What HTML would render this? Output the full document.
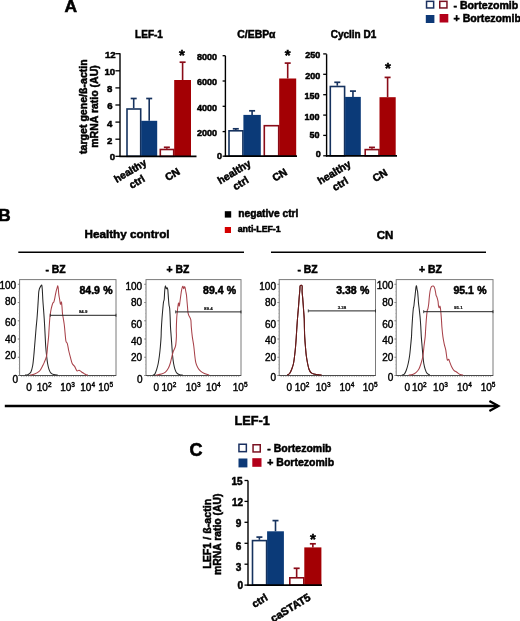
<!DOCTYPE html>
<html><head><meta charset="utf-8"><style>
html,body{margin:0;padding:0;background:#fff;}
svg{display:block;will-change:transform;}
text{font-family:"Liberation Sans", sans-serif;}
.b{stroke:#000;stroke-width:0.5px;}
.L{stroke:#000;stroke-width:0.8px;}
.r{stroke:#000;stroke-width:0.4px;}
</style></head><body>
<svg width="520" height="621" viewBox="0 0 520 621" font-family="Liberation Sans, sans-serif">
<rect width="520" height="621" fill="#fff"/>
<text x="64.6" y="12.3" font-size="17.4" font-weight="bold" class="b" text-anchor="start" fill="#000" style="stroke-width:0.6px">A</text>
<line x1="115.4" y1="53.7" x2="120" y2="53.7" stroke="#000" stroke-width="1.3"/>
<text x="115.6" y="58.1368" font-size="9.6" font-weight="bold" class="b" text-anchor="end" fill="#000" >12</text>
<line x1="115.4" y1="70.8" x2="120" y2="70.8" stroke="#000" stroke-width="1.3"/>
<text x="115.2" y="75.33680000000001" font-size="9.6" font-weight="bold" class="b" text-anchor="end" fill="#000" >10</text>
<line x1="115.4" y1="87.9" x2="120" y2="87.9" stroke="#000" stroke-width="1.3"/>
<text x="112.39999999999999" y="92.2368" font-size="9.6" font-weight="bold" class="b" text-anchor="end" fill="#000" >8</text>
<line x1="115.4" y1="105" x2="120" y2="105" stroke="#000" stroke-width="1.3"/>
<text x="112.6" y="109.38680000000001" font-size="9.6" font-weight="bold" class="b" text-anchor="end" fill="#000" >6</text>
<line x1="115.4" y1="122.1" x2="120" y2="122.1" stroke="#000" stroke-width="1.3"/>
<text x="112.39999999999999" y="127.33680000000001" font-size="9.6" font-weight="bold" class="b" text-anchor="end" fill="#000" >4</text>
<line x1="115.4" y1="139.2" x2="120" y2="139.2" stroke="#000" stroke-width="1.3"/>
<text x="112.39999999999999" y="143.9368" font-size="9.6" font-weight="bold" class="b" text-anchor="end" fill="#000" >2</text>
<line x1="115.4" y1="156.3" x2="120" y2="156.3" stroke="#000" stroke-width="1.3"/>
<text x="115.2" y="159.8368" font-size="9.6" font-weight="bold" class="b" text-anchor="end" fill="#000" >0</text>
<line x1="133.7" y1="108.2" x2="133.7" y2="98.5" stroke="#16325e" stroke-width="1.6"/>
<line x1="130.7" y1="98.5" x2="136.7" y2="98.5" stroke="#16325e" stroke-width="1.7"/>
<rect x="127.0" y="109.0" width="13.699999999999985" height="47.30000000000001" fill="#fff" stroke="#16325e" stroke-width="1.6"/>
<line x1="149.2" y1="120.8" x2="149.2" y2="98.5" stroke="#16325e" stroke-width="1.6"/>
<line x1="146.2" y1="98.5" x2="152.2" y2="98.5" stroke="#16325e" stroke-width="1.7"/>
<rect x="141.2" y="120.8" width="16.0" height="35.500000000000014" fill="#0b3a78"/>
<line x1="166.85" y1="148.7" x2="166.85" y2="147.3" stroke="#8a0c18" stroke-width="1.6"/>
<line x1="163.85" y1="147.3" x2="169.85" y2="147.3" stroke="#8a0c18" stroke-width="1.7"/>
<rect x="160.3" y="149.5" width="13.399999999999988" height="6.800000000000023" fill="#fff" stroke="#8a0c18" stroke-width="1.6"/>
<line x1="182.6" y1="80" x2="182.6" y2="62.2" stroke="#8a0c18" stroke-width="1.6"/>
<line x1="179.6" y1="62.2" x2="185.6" y2="62.2" stroke="#8a0c18" stroke-width="1.7"/>
<rect x="174.2" y="80" width="16.80000000000001" height="76.30000000000001" fill="#a30004"/>
<line x1="120" y1="53.3" x2="120" y2="157.0" stroke="#000" stroke-width="1.4"/>
<line x1="119.3" y1="156.3" x2="196.5" y2="156.3" stroke="#000" stroke-width="1.7"/>
<text x="149" y="37.6" font-size="10" font-weight="bold" class="b" text-anchor="middle" fill="#000" >LEF-1</text>
<text x="182" y="60.43" font-size="15" font-weight="bold" class="b" text-anchor="middle" fill="#000" >*</text>
<line x1="222.6" y1="55.7" x2="225.4" y2="55.7" stroke="#000" stroke-width="1.3"/>
<text x="217.0" y="59.622" font-size="9" font-weight="bold" class="b" text-anchor="end" fill="#000" >8000</text>
<line x1="222.6" y1="81.0" x2="225.4" y2="81.0" stroke="#000" stroke-width="1.3"/>
<text x="217.10000000000002" y="85.122" font-size="9" font-weight="bold" class="b" text-anchor="end" fill="#000" >6000</text>
<line x1="222.6" y1="106.3" x2="225.4" y2="106.3" stroke="#000" stroke-width="1.3"/>
<text x="217.10000000000002" y="110.52199999999999" font-size="9" font-weight="bold" class="b" text-anchor="end" fill="#000" >4000</text>
<line x1="222.6" y1="131.6" x2="225.4" y2="131.6" stroke="#000" stroke-width="1.3"/>
<text x="217.10000000000002" y="135.622" font-size="9" font-weight="bold" class="b" text-anchor="end" fill="#000" >2000</text>
<line x1="222.6" y1="156.2" x2="225.4" y2="156.2" stroke="#000" stroke-width="1.3"/>
<text x="221.9" y="158.572" font-size="9" font-weight="bold" class="b" text-anchor="end" fill="#000" >0</text>
<line x1="235.8" y1="130" x2="235.8" y2="128.8" stroke="#16325e" stroke-width="1.6"/>
<line x1="232.8" y1="128.8" x2="238.8" y2="128.8" stroke="#16325e" stroke-width="1.7"/>
<rect x="229.0" y="130.8" width="13.900000000000016" height="25.399999999999988" fill="#fff" stroke="#16325e" stroke-width="1.6"/>
<line x1="252.10000000000002" y1="114.9" x2="252.10000000000002" y2="110.8" stroke="#16325e" stroke-width="1.6"/>
<line x1="249.10000000000002" y1="110.8" x2="255.10000000000002" y2="110.8" stroke="#16325e" stroke-width="1.7"/>
<rect x="243.4" y="114.9" width="17.400000000000006" height="41.29999999999998" fill="#0b3a78"/>
<rect x="264.3" y="125.7" width="14.399999999999988" height="30.499999999999982" fill="#fff" stroke="#8a0c18" stroke-width="1.6"/>
<line x1="287.7" y1="78.5" x2="287.7" y2="63.1" stroke="#8a0c18" stroke-width="1.6"/>
<line x1="284.7" y1="63.1" x2="290.7" y2="63.1" stroke="#8a0c18" stroke-width="1.7"/>
<rect x="279.2" y="78.5" width="17.0" height="77.69999999999999" fill="#a30004"/>
<line x1="225.4" y1="55.8" x2="225.4" y2="156.89999999999998" stroke="#000" stroke-width="1.4"/>
<line x1="224.70000000000002" y1="156.2" x2="297" y2="156.2" stroke="#000" stroke-width="1.7"/>
<text x="256.4" y="37.6" font-size="10.4" font-weight="bold" class="b" text-anchor="middle" fill="#000" >C/EBP&#945;</text>
<text x="287.6" y="59.93" font-size="15" font-weight="bold" class="b" text-anchor="middle" fill="#000" >*</text>
<line x1="323.20000000000005" y1="53.9" x2="326.6" y2="53.9" stroke="#000" stroke-width="1.3"/>
<text x="320.2" y="58.322" font-size="9" font-weight="bold" class="b" text-anchor="end" fill="#000" >250</text>
<line x1="323.20000000000005" y1="74.3" x2="326.6" y2="74.3" stroke="#000" stroke-width="1.3"/>
<text x="320.2" y="79.122" font-size="9" font-weight="bold" class="b" text-anchor="end" fill="#000" >200</text>
<line x1="323.20000000000005" y1="94.7" x2="326.6" y2="94.7" stroke="#000" stroke-width="1.3"/>
<text x="319.6" y="99.122" font-size="9" font-weight="bold" class="b" text-anchor="end" fill="#000" >150</text>
<line x1="323.20000000000005" y1="115.1" x2="326.6" y2="115.1" stroke="#000" stroke-width="1.3"/>
<text x="319.6" y="119.622" font-size="9" font-weight="bold" class="b" text-anchor="end" fill="#000" >100</text>
<line x1="323.20000000000005" y1="135.4" x2="326.6" y2="135.4" stroke="#000" stroke-width="1.3"/>
<text x="319.40000000000003" y="138.02200000000002" font-size="9" font-weight="bold" class="b" text-anchor="end" fill="#000" >50</text>
<line x1="323.20000000000005" y1="155.8" x2="326.6" y2="155.8" stroke="#000" stroke-width="1.3"/>
<text x="320.8" y="157.422" font-size="9" font-weight="bold" class="b" text-anchor="end" fill="#000" >0</text>
<line x1="337.3" y1="85.7" x2="337.3" y2="82.3" stroke="#16325e" stroke-width="1.6"/>
<line x1="334.3" y1="82.3" x2="340.3" y2="82.3" stroke="#16325e" stroke-width="1.7"/>
<rect x="330.3" y="86.5" width="14.300000000000022" height="69.30000000000001" fill="#fff" stroke="#16325e" stroke-width="1.6"/>
<line x1="352.95000000000005" y1="96.9" x2="352.95000000000005" y2="91.1" stroke="#16325e" stroke-width="1.6"/>
<line x1="349.95000000000005" y1="91.1" x2="355.95000000000005" y2="91.1" stroke="#16325e" stroke-width="1.7"/>
<rect x="345.1" y="96.9" width="15.699999999999989" height="58.900000000000006" fill="#0b3a78"/>
<line x1="371.95" y1="148.8" x2="371.95" y2="147.4" stroke="#8a0c18" stroke-width="1.6"/>
<line x1="368.95" y1="147.4" x2="374.95" y2="147.4" stroke="#8a0c18" stroke-width="1.7"/>
<rect x="365.2" y="149.60000000000002" width="13.800000000000022" height="6.2" fill="#fff" stroke="#8a0c18" stroke-width="1.6"/>
<line x1="387.6" y1="97.2" x2="387.6" y2="77.4" stroke="#8a0c18" stroke-width="1.6"/>
<line x1="384.6" y1="77.4" x2="390.6" y2="77.4" stroke="#8a0c18" stroke-width="1.7"/>
<rect x="379.5" y="97.2" width="16.19999999999999" height="58.60000000000001" fill="#a30004"/>
<line x1="326.6" y1="54.2" x2="326.6" y2="156.5" stroke="#000" stroke-width="1.4"/>
<line x1="325.90000000000003" y1="155.8" x2="397" y2="155.8" stroke="#000" stroke-width="1.7"/>
<text x="353.5" y="37.6" font-size="10" font-weight="bold" class="b" text-anchor="middle" fill="#000" >Cyclin D1</text>
<text x="388" y="73.43" font-size="15" font-weight="bold" class="b" text-anchor="middle" fill="#000" >*</text>
<text transform="translate(86.5,106.6) rotate(-90)" font-size="10.6" font-weight="bold" class="b" text-anchor="middle">target gene/&#223;-actin</text>
<text transform="translate(97.5,106.5) rotate(-90)" font-size="10.5" font-weight="bold" class="b" text-anchor="middle">mRNA ratio (AU)</text>
<text transform="translate(147.3,164.6) rotate(-31)" font-size="10.2" font-weight="bold" class="b" text-anchor="end">healthy</text>
<text transform="translate(145.8,180.7) rotate(-31)" font-size="10.5" font-weight="bold" class="b" text-anchor="end">ctrl</text>
<text transform="translate(180.8,173.5) rotate(-31)" font-size="10.5" font-weight="bold" class="b" text-anchor="end">CN</text>
<text transform="translate(251.8,165.5) rotate(-31)" font-size="10.5" font-weight="bold" class="b" text-anchor="end">healthy</text>
<text transform="translate(249.6,182) rotate(-31)" font-size="10.5" font-weight="bold" class="b" text-anchor="end">ctrl</text>
<text transform="translate(288,174) rotate(-31)" font-size="10.5" font-weight="bold" class="b" text-anchor="end">CN</text>
<text transform="translate(351.7,165.9) rotate(-31)" font-size="10.5" font-weight="bold" class="b" text-anchor="end">healthy</text>
<text transform="translate(349.1,182.8) rotate(-31)" font-size="10.5" font-weight="bold" class="b" text-anchor="end">ctrl</text>
<text transform="translate(388.3,174.5) rotate(-31)" font-size="10.5" font-weight="bold" class="b" text-anchor="end">CN</text>
<rect x="426.55" y="1.35" width="7.099999999999966" height="6.6" fill="#fff" stroke="#1a3060" stroke-width="1.5"/>
<rect x="439.75" y="1.35" width="7.199999999999989" height="6.6" fill="#fff" stroke="#7a1222" stroke-width="1.5"/>
<rect x="425.8" y="15" width="8.599999999999966" height="8" fill="#0d3977"/>
<rect x="439.6" y="14" width="8.699999999999989" height="8.5" fill="#b3001a"/>
<text x="453.5" y="8.7" font-size="10.6" font-weight="bold" class="b" text-anchor="start" fill="#000" >- Bortezomib</text>
<text x="453.5" y="22.0" font-size="10.6" font-weight="bold" class="b" text-anchor="start" fill="#000" >+ Bortezomib</text>
<text x="-1.8" y="221.0" font-size="17.2" font-weight="bold" class="b" text-anchor="start" fill="#000" style="stroke-width:0.6px">B</text>
<text x="127" y="237.6" font-size="11.7" font-weight="bold" class="b" text-anchor="middle" fill="#000" >Healthy control</text>
<text x="385" y="238.5" font-size="11.5" font-weight="bold" class="b" text-anchor="middle" fill="#000" >CN</text>
<line x1="18.3" y1="252.2" x2="244" y2="252.2" stroke="#000" stroke-width="1.6"/>
<line x1="271" y1="252.2" x2="486" y2="252.2" stroke="#000" stroke-width="1.6"/>
<rect x="224.8" y="211.2" width="6.4" height="6.4" fill="#000"/>
<rect x="224.8" y="227" width="6.2" height="6" fill="#d40000"/>
<text x="238.3" y="216.9" font-size="10.2" font-weight="bold" class="b" text-anchor="start" fill="#000" >negative ctrl</text>
<text x="237.7" y="232.3" font-size="8.8" font-weight="bold" class="b" text-anchor="start" fill="#000" >anti-LEF-1</text>
<text x="55.5" y="272.6" font-size="10.4" font-weight="bold" class="b" text-anchor="middle" fill="#000" >- BZ</text>
<text x="178" y="272.6" font-size="10.4" font-weight="bold" class="b" text-anchor="middle" fill="#000" >+ BZ</text>
<text x="307.5" y="272.6" font-size="10.4" font-weight="bold" class="b" text-anchor="middle" fill="#000" >- BZ</text>
<text x="430.5" y="272.6" font-size="10.4" font-weight="bold" class="b" text-anchor="middle" fill="#000" >+ BZ</text>
<rect x="19.6" y="279.6" width="96.4" height="95.89999999999998" fill="#fff" stroke="#7a7a7a" stroke-width="1"/>
<line x1="17.8" y1="375.50" x2="19.6" y2="375.50" stroke="#666" stroke-width="0.8"/>
<line x1="17.8" y1="357.26" x2="19.6" y2="357.26" stroke="#666" stroke-width="0.8"/>
<line x1="17.8" y1="339.02" x2="19.6" y2="339.02" stroke="#666" stroke-width="0.8"/>
<line x1="17.8" y1="320.78" x2="19.6" y2="320.78" stroke="#666" stroke-width="0.8"/>
<line x1="17.8" y1="302.54" x2="19.6" y2="302.54" stroke="#666" stroke-width="0.8"/>
<line x1="17.8" y1="284.30" x2="19.6" y2="284.30" stroke="#666" stroke-width="0.8"/>
<line x1="18.700000000000003" y1="375.50" x2="19.6" y2="375.50" stroke="#999" stroke-width="0.5"/>
<line x1="18.700000000000003" y1="371.85" x2="19.6" y2="371.85" stroke="#999" stroke-width="0.5"/>
<line x1="18.700000000000003" y1="368.20" x2="19.6" y2="368.20" stroke="#999" stroke-width="0.5"/>
<line x1="18.700000000000003" y1="364.56" x2="19.6" y2="364.56" stroke="#999" stroke-width="0.5"/>
<line x1="18.700000000000003" y1="360.91" x2="19.6" y2="360.91" stroke="#999" stroke-width="0.5"/>
<line x1="18.700000000000003" y1="357.26" x2="19.6" y2="357.26" stroke="#999" stroke-width="0.5"/>
<line x1="18.700000000000003" y1="353.61" x2="19.6" y2="353.61" stroke="#999" stroke-width="0.5"/>
<line x1="18.700000000000003" y1="349.96" x2="19.6" y2="349.96" stroke="#999" stroke-width="0.5"/>
<line x1="18.700000000000003" y1="346.32" x2="19.6" y2="346.32" stroke="#999" stroke-width="0.5"/>
<line x1="18.700000000000003" y1="342.67" x2="19.6" y2="342.67" stroke="#999" stroke-width="0.5"/>
<line x1="18.700000000000003" y1="339.02" x2="19.6" y2="339.02" stroke="#999" stroke-width="0.5"/>
<line x1="18.700000000000003" y1="335.37" x2="19.6" y2="335.37" stroke="#999" stroke-width="0.5"/>
<line x1="18.700000000000003" y1="331.72" x2="19.6" y2="331.72" stroke="#999" stroke-width="0.5"/>
<line x1="18.700000000000003" y1="328.08" x2="19.6" y2="328.08" stroke="#999" stroke-width="0.5"/>
<line x1="18.700000000000003" y1="324.43" x2="19.6" y2="324.43" stroke="#999" stroke-width="0.5"/>
<line x1="18.700000000000003" y1="320.78" x2="19.6" y2="320.78" stroke="#999" stroke-width="0.5"/>
<line x1="18.700000000000003" y1="317.13" x2="19.6" y2="317.13" stroke="#999" stroke-width="0.5"/>
<line x1="18.700000000000003" y1="313.48" x2="19.6" y2="313.48" stroke="#999" stroke-width="0.5"/>
<line x1="18.700000000000003" y1="309.84" x2="19.6" y2="309.84" stroke="#999" stroke-width="0.5"/>
<line x1="18.700000000000003" y1="306.19" x2="19.6" y2="306.19" stroke="#999" stroke-width="0.5"/>
<line x1="18.700000000000003" y1="302.54" x2="19.6" y2="302.54" stroke="#999" stroke-width="0.5"/>
<line x1="18.700000000000003" y1="298.89" x2="19.6" y2="298.89" stroke="#999" stroke-width="0.5"/>
<line x1="18.700000000000003" y1="295.24" x2="19.6" y2="295.24" stroke="#999" stroke-width="0.5"/>
<line x1="18.700000000000003" y1="291.60" x2="19.6" y2="291.60" stroke="#999" stroke-width="0.5"/>
<line x1="18.700000000000003" y1="287.95" x2="19.6" y2="287.95" stroke="#999" stroke-width="0.5"/>
<line x1="18.700000000000003" y1="284.30" x2="19.6" y2="284.30" stroke="#999" stroke-width="0.5"/>
<text x="16.1" y="288.7" font-size="10" class="r" text-anchor="end" fill="#000" >100</text>
<text x="16.1" y="304.7" font-size="10" class="r" text-anchor="end" fill="#000" >80</text>
<text x="16.1" y="325.9" font-size="10" class="r" text-anchor="end" fill="#000" >60</text>
<text x="16.1" y="343.09999999999997" font-size="10" class="r" text-anchor="end" fill="#000" >40</text>
<text x="16.1" y="359.3" font-size="10" class="r" text-anchor="end" fill="#000" >20</text>
<text x="18" y="382.9" font-size="10" class="r" text-anchor="end" fill="#000" >0</text>
<line x1="21.60" y1="375.5" x2="21.60" y2="377.1" stroke="#777" stroke-width="0.6"/>
<line x1="23.96" y1="375.5" x2="23.96" y2="377.1" stroke="#777" stroke-width="0.6"/>
<line x1="26.32" y1="375.5" x2="26.32" y2="377.1" stroke="#777" stroke-width="0.6"/>
<line x1="28.68" y1="375.5" x2="28.68" y2="377.1" stroke="#777" stroke-width="0.6"/>
<line x1="31.04" y1="375.5" x2="31.04" y2="377.1" stroke="#777" stroke-width="0.6"/>
<line x1="33.40" y1="375.5" x2="33.40" y2="377.1" stroke="#777" stroke-width="0.6"/>
<line x1="35.76" y1="375.5" x2="35.76" y2="377.1" stroke="#777" stroke-width="0.6"/>
<line x1="38.12" y1="375.5" x2="38.12" y2="377.1" stroke="#777" stroke-width="0.6"/>
<line x1="40.48" y1="375.5" x2="40.48" y2="377.1" stroke="#777" stroke-width="0.6"/>
<line x1="42.84" y1="375.5" x2="42.84" y2="377.1" stroke="#777" stroke-width="0.6"/>
<line x1="45.20" y1="375.5" x2="45.20" y2="377.1" stroke="#777" stroke-width="0.6"/>
<line x1="47.56" y1="375.5" x2="47.56" y2="377.1" stroke="#777" stroke-width="0.6"/>
<line x1="49.92" y1="375.5" x2="49.92" y2="377.1" stroke="#777" stroke-width="0.6"/>
<line x1="52.28" y1="375.5" x2="52.28" y2="377.1" stroke="#777" stroke-width="0.6"/>
<line x1="54.64" y1="375.5" x2="54.64" y2="377.1" stroke="#777" stroke-width="0.6"/>
<line x1="57.00" y1="375.5" x2="57.00" y2="377.1" stroke="#777" stroke-width="0.6"/>
<line x1="59.36" y1="375.5" x2="59.36" y2="377.1" stroke="#777" stroke-width="0.6"/>
<line x1="61.72" y1="375.5" x2="61.72" y2="377.1" stroke="#777" stroke-width="0.6"/>
<line x1="64.08" y1="375.5" x2="64.08" y2="377.1" stroke="#777" stroke-width="0.6"/>
<line x1="66.44" y1="375.5" x2="66.44" y2="377.1" stroke="#777" stroke-width="0.6"/>
<line x1="68.80" y1="375.5" x2="68.80" y2="377.1" stroke="#777" stroke-width="0.6"/>
<line x1="71.16" y1="375.5" x2="71.16" y2="377.1" stroke="#777" stroke-width="0.6"/>
<line x1="73.52" y1="375.5" x2="73.52" y2="377.1" stroke="#777" stroke-width="0.6"/>
<line x1="75.88" y1="375.5" x2="75.88" y2="377.1" stroke="#777" stroke-width="0.6"/>
<line x1="78.24" y1="375.5" x2="78.24" y2="377.1" stroke="#777" stroke-width="0.6"/>
<line x1="80.60" y1="375.5" x2="80.60" y2="377.1" stroke="#777" stroke-width="0.6"/>
<line x1="82.96" y1="375.5" x2="82.96" y2="377.1" stroke="#777" stroke-width="0.6"/>
<line x1="85.32" y1="375.5" x2="85.32" y2="377.1" stroke="#777" stroke-width="0.6"/>
<line x1="87.68" y1="375.5" x2="87.68" y2="377.1" stroke="#777" stroke-width="0.6"/>
<line x1="90.04" y1="375.5" x2="90.04" y2="377.1" stroke="#777" stroke-width="0.6"/>
<line x1="92.40" y1="375.5" x2="92.40" y2="377.1" stroke="#777" stroke-width="0.6"/>
<line x1="94.76" y1="375.5" x2="94.76" y2="377.1" stroke="#777" stroke-width="0.6"/>
<line x1="97.12" y1="375.5" x2="97.12" y2="377.1" stroke="#777" stroke-width="0.6"/>
<line x1="99.48" y1="375.5" x2="99.48" y2="377.1" stroke="#777" stroke-width="0.6"/>
<line x1="101.84" y1="375.5" x2="101.84" y2="377.1" stroke="#777" stroke-width="0.6"/>
<line x1="104.20" y1="375.5" x2="104.20" y2="377.1" stroke="#777" stroke-width="0.6"/>
<line x1="106.56" y1="375.5" x2="106.56" y2="377.1" stroke="#777" stroke-width="0.6"/>
<line x1="108.92" y1="375.5" x2="108.92" y2="377.1" stroke="#777" stroke-width="0.6"/>
<line x1="111.28" y1="375.5" x2="111.28" y2="377.1" stroke="#777" stroke-width="0.6"/>
<line x1="113.64" y1="375.5" x2="113.64" y2="377.1" stroke="#777" stroke-width="0.6"/>
<line x1="19.6" y1="375.5" x2="116" y2="375.5" stroke="#4a4a4a" stroke-width="1.2"/>
<text x="26.3" y="391" font-size="10" class="r">0</text>
<text x="36.8" y="391" font-size="10" class="r">10<tspan font-size="6.5" dy="-3.6">2</tspan></text>
<text x="60.2" y="391" font-size="10" class="r">10<tspan font-size="6.5" dy="-3.6">3</tspan></text>
<text x="80.3" y="391" font-size="10" class="r">10<tspan font-size="6.5" dy="-3.6">4</tspan></text>
<text x="98.3" y="391" font-size="10" class="r">10<tspan font-size="6.5" dy="-3.6">5</tspan></text>
<path d="M25.00,375.10 C25.48,375.02 26.93,375.08 27.90,374.60 C28.87,374.12 30.00,373.72 30.80,372.20 C31.60,370.68 32.20,368.23 32.70,365.50 C33.20,362.77 33.48,359.02 33.80,355.80 C34.12,352.58 34.33,349.40 34.60,346.20 C34.87,343.00 35.15,339.63 35.40,336.60 C35.65,333.57 35.83,331.02 36.10,328.00 C36.37,324.98 36.73,321.70 37.00,318.50 C37.27,315.30 37.48,312.02 37.70,308.80 C37.92,305.58 38.13,301.92 38.30,299.20 C38.47,296.48 38.55,294.10 38.70,292.50 C38.85,290.90 39.00,290.40 39.20,289.60 C39.40,288.80 39.62,288.33 39.90,287.70 C40.18,287.07 40.58,286.20 40.90,285.80 C41.22,285.40 41.57,284.67 41.80,285.30 C42.03,285.93 42.13,287.28 42.30,289.60 C42.47,291.92 42.60,296.00 42.80,299.20 C43.00,302.40 43.27,305.58 43.50,308.80 C43.73,312.02 44.00,315.47 44.20,318.50 C44.40,321.53 44.53,323.98 44.70,327.00 C44.87,330.02 45.03,333.40 45.20,336.60 C45.37,339.80 45.47,343.00 45.70,346.20 C45.93,349.40 46.28,352.92 46.60,355.80 C46.92,358.68 47.20,361.25 47.60,363.50 C48.00,365.75 48.43,367.68 49.00,369.30 C49.57,370.92 50.20,372.32 51.00,373.20 C51.80,374.08 52.68,374.28 53.80,374.60 C54.92,374.92 57.05,375.02 57.70,375.10" fill="none" stroke="#262626" stroke-width="1.05" stroke-linejoin="round"/>
<path d="M29.80,375.10 C30.60,374.93 33.00,374.75 34.60,374.10 C36.20,373.45 38.12,372.48 39.40,371.20 C40.68,369.92 41.50,367.83 42.30,366.40 C43.10,364.97 43.48,364.37 44.20,362.60 C44.92,360.83 46.03,358.53 46.60,355.80 C47.17,353.07 47.27,349.40 47.60,346.20 C47.93,343.00 48.37,339.30 48.60,336.60 C48.83,333.90 48.80,333.02 49.00,330.00 C49.20,326.98 49.55,321.38 49.80,318.50 C50.05,315.62 50.27,314.32 50.50,312.70 C50.73,311.08 50.97,309.92 51.20,308.80 C51.43,307.68 51.62,306.97 51.90,306.00 C52.18,305.03 52.58,303.65 52.90,303.00 C53.22,302.35 53.52,302.73 53.80,302.10 C54.08,301.47 54.35,300.32 54.60,299.20 C54.85,298.08 55.02,296.83 55.30,295.40 C55.58,293.97 55.98,291.88 56.30,290.60 C56.62,289.32 56.97,288.50 57.20,287.70 C57.43,286.90 57.53,285.80 57.70,285.80 C57.87,285.80 58.02,286.27 58.20,287.70 C58.38,289.13 58.57,292.48 58.80,294.40 C59.03,296.32 59.33,297.60 59.60,299.20 C59.87,300.80 60.15,303.35 60.40,304.00 C60.65,304.65 60.92,303.42 61.10,303.10 C61.28,302.78 61.35,301.47 61.50,302.10 C61.65,302.73 61.83,304.97 62.00,306.90 C62.17,308.83 62.28,311.77 62.50,313.70 C62.72,315.63 63.02,316.75 63.30,318.50 C63.58,320.25 63.95,322.28 64.20,324.20 C64.45,326.12 64.60,327.93 64.80,330.00 C65.00,332.07 65.20,334.70 65.40,336.60 C65.60,338.50 65.67,340.20 66.00,341.40 C66.33,342.60 66.93,342.20 67.40,343.80 C67.87,345.40 68.32,348.83 68.80,351.00 C69.28,353.17 69.73,354.72 70.30,356.80 C70.87,358.88 71.48,361.90 72.20,363.50 C72.92,365.10 73.80,365.18 74.60,366.40 C75.40,367.62 76.27,370.15 77.00,370.80 C77.73,371.45 78.28,370.15 79.00,370.30 C79.72,370.45 80.43,371.15 81.30,371.70 C82.17,372.25 83.38,373.08 84.20,373.60 C85.02,374.12 85.57,374.55 86.20,374.80 C86.83,375.05 87.70,375.05 88.00,375.10" fill="none" stroke="#a8424a" stroke-width="1.05" stroke-linejoin="round"/>
<line x1="50.3" y1="315.3" x2="116" y2="315.3" stroke="#222" stroke-width="1"/>
<line x1="50.3" y1="313.8" x2="50.3" y2="316.8" stroke="#222" stroke-width="0.8"/>
<line x1="116" y1="313.8" x2="116" y2="316.8" stroke="#222" stroke-width="0.8"/>
<text x="83.15" y="312.90000000000003" font-size="4.4" font-weight="bold" class="b" text-anchor="middle" fill="#000" style="stroke-width:0.15px">84.9</text>
<text x="79.5" y="294.0" font-size="10.5" font-weight="bold" class="b" text-anchor="start" fill="#000" word-spacing="0.4">84.9 %</text>
<rect x="146" y="279.6" width="95" height="95.89999999999998" fill="#fff" stroke="#7a7a7a" stroke-width="1"/>
<line x1="144.2" y1="375.50" x2="146" y2="375.50" stroke="#666" stroke-width="0.8"/>
<line x1="144.2" y1="357.26" x2="146" y2="357.26" stroke="#666" stroke-width="0.8"/>
<line x1="144.2" y1="339.02" x2="146" y2="339.02" stroke="#666" stroke-width="0.8"/>
<line x1="144.2" y1="320.78" x2="146" y2="320.78" stroke="#666" stroke-width="0.8"/>
<line x1="144.2" y1="302.54" x2="146" y2="302.54" stroke="#666" stroke-width="0.8"/>
<line x1="144.2" y1="284.30" x2="146" y2="284.30" stroke="#666" stroke-width="0.8"/>
<line x1="145.1" y1="375.50" x2="146" y2="375.50" stroke="#999" stroke-width="0.5"/>
<line x1="145.1" y1="371.85" x2="146" y2="371.85" stroke="#999" stroke-width="0.5"/>
<line x1="145.1" y1="368.20" x2="146" y2="368.20" stroke="#999" stroke-width="0.5"/>
<line x1="145.1" y1="364.56" x2="146" y2="364.56" stroke="#999" stroke-width="0.5"/>
<line x1="145.1" y1="360.91" x2="146" y2="360.91" stroke="#999" stroke-width="0.5"/>
<line x1="145.1" y1="357.26" x2="146" y2="357.26" stroke="#999" stroke-width="0.5"/>
<line x1="145.1" y1="353.61" x2="146" y2="353.61" stroke="#999" stroke-width="0.5"/>
<line x1="145.1" y1="349.96" x2="146" y2="349.96" stroke="#999" stroke-width="0.5"/>
<line x1="145.1" y1="346.32" x2="146" y2="346.32" stroke="#999" stroke-width="0.5"/>
<line x1="145.1" y1="342.67" x2="146" y2="342.67" stroke="#999" stroke-width="0.5"/>
<line x1="145.1" y1="339.02" x2="146" y2="339.02" stroke="#999" stroke-width="0.5"/>
<line x1="145.1" y1="335.37" x2="146" y2="335.37" stroke="#999" stroke-width="0.5"/>
<line x1="145.1" y1="331.72" x2="146" y2="331.72" stroke="#999" stroke-width="0.5"/>
<line x1="145.1" y1="328.08" x2="146" y2="328.08" stroke="#999" stroke-width="0.5"/>
<line x1="145.1" y1="324.43" x2="146" y2="324.43" stroke="#999" stroke-width="0.5"/>
<line x1="145.1" y1="320.78" x2="146" y2="320.78" stroke="#999" stroke-width="0.5"/>
<line x1="145.1" y1="317.13" x2="146" y2="317.13" stroke="#999" stroke-width="0.5"/>
<line x1="145.1" y1="313.48" x2="146" y2="313.48" stroke="#999" stroke-width="0.5"/>
<line x1="145.1" y1="309.84" x2="146" y2="309.84" stroke="#999" stroke-width="0.5"/>
<line x1="145.1" y1="306.19" x2="146" y2="306.19" stroke="#999" stroke-width="0.5"/>
<line x1="145.1" y1="302.54" x2="146" y2="302.54" stroke="#999" stroke-width="0.5"/>
<line x1="145.1" y1="298.89" x2="146" y2="298.89" stroke="#999" stroke-width="0.5"/>
<line x1="145.1" y1="295.24" x2="146" y2="295.24" stroke="#999" stroke-width="0.5"/>
<line x1="145.1" y1="291.60" x2="146" y2="291.60" stroke="#999" stroke-width="0.5"/>
<line x1="145.1" y1="287.95" x2="146" y2="287.95" stroke="#999" stroke-width="0.5"/>
<line x1="145.1" y1="284.30" x2="146" y2="284.30" stroke="#999" stroke-width="0.5"/>
<text x="142.2" y="290.2" font-size="10" class="r" text-anchor="end" fill="#000" >100</text>
<text x="142.2" y="305.9" font-size="10" class="r" text-anchor="end" fill="#000" >80</text>
<text x="142.2" y="327.59999999999997" font-size="10" class="r" text-anchor="end" fill="#000" >60</text>
<text x="142.2" y="345.3" font-size="10" class="r" text-anchor="end" fill="#000" >40</text>
<text x="142.2" y="360.9" font-size="10" class="r" text-anchor="end" fill="#000" >20</text>
<text x="142.5" y="382.9" font-size="10" class="r" text-anchor="end" fill="#000" >0</text>
<line x1="148.00" y1="375.5" x2="148.00" y2="377.1" stroke="#777" stroke-width="0.6"/>
<line x1="150.32" y1="375.5" x2="150.32" y2="377.1" stroke="#777" stroke-width="0.6"/>
<line x1="152.65" y1="375.5" x2="152.65" y2="377.1" stroke="#777" stroke-width="0.6"/>
<line x1="154.97" y1="375.5" x2="154.97" y2="377.1" stroke="#777" stroke-width="0.6"/>
<line x1="157.30" y1="375.5" x2="157.30" y2="377.1" stroke="#777" stroke-width="0.6"/>
<line x1="159.62" y1="375.5" x2="159.62" y2="377.1" stroke="#777" stroke-width="0.6"/>
<line x1="161.95" y1="375.5" x2="161.95" y2="377.1" stroke="#777" stroke-width="0.6"/>
<line x1="164.28" y1="375.5" x2="164.28" y2="377.1" stroke="#777" stroke-width="0.6"/>
<line x1="166.60" y1="375.5" x2="166.60" y2="377.1" stroke="#777" stroke-width="0.6"/>
<line x1="168.93" y1="375.5" x2="168.93" y2="377.1" stroke="#777" stroke-width="0.6"/>
<line x1="171.25" y1="375.5" x2="171.25" y2="377.1" stroke="#777" stroke-width="0.6"/>
<line x1="173.57" y1="375.5" x2="173.57" y2="377.1" stroke="#777" stroke-width="0.6"/>
<line x1="175.90" y1="375.5" x2="175.90" y2="377.1" stroke="#777" stroke-width="0.6"/>
<line x1="178.22" y1="375.5" x2="178.22" y2="377.1" stroke="#777" stroke-width="0.6"/>
<line x1="180.55" y1="375.5" x2="180.55" y2="377.1" stroke="#777" stroke-width="0.6"/>
<line x1="182.88" y1="375.5" x2="182.88" y2="377.1" stroke="#777" stroke-width="0.6"/>
<line x1="185.20" y1="375.5" x2="185.20" y2="377.1" stroke="#777" stroke-width="0.6"/>
<line x1="187.53" y1="375.5" x2="187.53" y2="377.1" stroke="#777" stroke-width="0.6"/>
<line x1="189.85" y1="375.5" x2="189.85" y2="377.1" stroke="#777" stroke-width="0.6"/>
<line x1="192.18" y1="375.5" x2="192.18" y2="377.1" stroke="#777" stroke-width="0.6"/>
<line x1="194.50" y1="375.5" x2="194.50" y2="377.1" stroke="#777" stroke-width="0.6"/>
<line x1="196.82" y1="375.5" x2="196.82" y2="377.1" stroke="#777" stroke-width="0.6"/>
<line x1="199.15" y1="375.5" x2="199.15" y2="377.1" stroke="#777" stroke-width="0.6"/>
<line x1="201.47" y1="375.5" x2="201.47" y2="377.1" stroke="#777" stroke-width="0.6"/>
<line x1="203.80" y1="375.5" x2="203.80" y2="377.1" stroke="#777" stroke-width="0.6"/>
<line x1="206.12" y1="375.5" x2="206.12" y2="377.1" stroke="#777" stroke-width="0.6"/>
<line x1="208.45" y1="375.5" x2="208.45" y2="377.1" stroke="#777" stroke-width="0.6"/>
<line x1="210.78" y1="375.5" x2="210.78" y2="377.1" stroke="#777" stroke-width="0.6"/>
<line x1="213.10" y1="375.5" x2="213.10" y2="377.1" stroke="#777" stroke-width="0.6"/>
<line x1="215.43" y1="375.5" x2="215.43" y2="377.1" stroke="#777" stroke-width="0.6"/>
<line x1="217.75" y1="375.5" x2="217.75" y2="377.1" stroke="#777" stroke-width="0.6"/>
<line x1="220.07" y1="375.5" x2="220.07" y2="377.1" stroke="#777" stroke-width="0.6"/>
<line x1="222.40" y1="375.5" x2="222.40" y2="377.1" stroke="#777" stroke-width="0.6"/>
<line x1="224.72" y1="375.5" x2="224.72" y2="377.1" stroke="#777" stroke-width="0.6"/>
<line x1="227.05" y1="375.5" x2="227.05" y2="377.1" stroke="#777" stroke-width="0.6"/>
<line x1="229.38" y1="375.5" x2="229.38" y2="377.1" stroke="#777" stroke-width="0.6"/>
<line x1="231.70" y1="375.5" x2="231.70" y2="377.1" stroke="#777" stroke-width="0.6"/>
<line x1="234.03" y1="375.5" x2="234.03" y2="377.1" stroke="#777" stroke-width="0.6"/>
<line x1="236.35" y1="375.5" x2="236.35" y2="377.1" stroke="#777" stroke-width="0.6"/>
<line x1="238.68" y1="375.5" x2="238.68" y2="377.1" stroke="#777" stroke-width="0.6"/>
<line x1="146" y1="375.5" x2="241" y2="375.5" stroke="#4a4a4a" stroke-width="1.2"/>
<text x="153.5" y="391" font-size="10" class="r">0</text>
<text x="161.5" y="391" font-size="10" class="r">10<tspan font-size="6.5" dy="-3.6">2</tspan></text>
<text x="185.8" y="391" font-size="10" class="r">10<tspan font-size="6.5" dy="-3.6">3</tspan></text>
<text x="205.9" y="391" font-size="10" class="r">10<tspan font-size="6.5" dy="-3.6">4</tspan></text>
<text x="232.8" y="391" font-size="10" class="r">10<tspan font-size="6.5" dy="-3.6">5</tspan></text>
<path d="M152.90,375.10 C153.22,374.93 154.17,375.07 154.80,374.10 C155.43,373.13 156.13,371.07 156.70,369.30 C157.27,367.53 157.75,365.75 158.20,363.50 C158.65,361.25 159.03,358.68 159.40,355.80 C159.77,352.92 160.12,349.40 160.40,346.20 C160.68,343.00 160.95,339.30 161.10,336.60 C161.25,333.90 161.15,333.02 161.30,330.00 C161.45,326.98 161.72,322.35 162.00,318.50 C162.28,314.65 162.75,309.63 163.00,306.90 C163.25,304.17 163.30,303.38 163.50,302.10 C163.70,300.82 164.02,300.80 164.20,299.20 C164.38,297.60 164.48,294.25 164.60,292.50 C164.72,290.75 164.77,289.82 164.90,288.70 C165.03,287.58 165.17,285.80 165.40,285.80 C165.63,285.80 166.02,288.38 166.30,288.70 C166.58,289.02 166.85,287.55 167.10,287.70 C167.35,287.85 167.63,288.63 167.80,289.60 C167.97,290.57 167.98,291.90 168.10,293.50 C168.22,295.10 168.35,297.28 168.50,299.20 C168.65,301.12 168.80,303.40 169.00,305.00 C169.20,306.60 169.50,306.55 169.70,308.80 C169.90,311.05 170.07,315.47 170.20,318.50 C170.33,321.53 170.33,323.98 170.50,327.00 C170.67,330.02 170.97,333.40 171.20,336.60 C171.43,339.80 171.67,343.00 171.90,346.20 C172.13,349.40 172.32,352.92 172.60,355.80 C172.88,358.68 173.20,361.25 173.60,363.50 C174.00,365.75 174.45,367.68 175.00,369.30 C175.55,370.92 176.10,372.28 176.90,373.20 C177.70,374.12 178.83,374.48 179.80,374.80 C180.77,375.12 182.22,375.05 182.70,375.10" fill="none" stroke="#262626" stroke-width="1.05" stroke-linejoin="round"/>
<path d="M155.80,375.10 C156.75,374.93 159.90,374.58 161.50,374.10 C163.10,373.62 164.27,373.17 165.40,372.20 C166.53,371.23 167.50,369.75 168.30,368.30 C169.10,366.85 169.65,365.25 170.20,363.50 C170.75,361.75 171.12,359.72 171.60,357.80 C172.08,355.88 172.45,353.93 173.10,352.00 C173.75,350.07 174.95,348.77 175.50,346.20 C176.05,343.63 176.27,339.30 176.40,336.60 C176.53,333.90 176.25,333.02 176.30,330.00 C176.35,326.98 176.52,321.70 176.70,318.50 C176.88,315.30 177.17,313.05 177.40,310.80 C177.63,308.55 177.88,306.28 178.10,305.00 C178.32,303.72 178.50,302.93 178.70,303.10 C178.90,303.27 179.08,306.32 179.30,306.00 C179.52,305.68 179.75,302.97 180.00,301.20 C180.25,299.43 180.55,297.17 180.80,295.40 C181.05,293.63 181.27,291.88 181.50,290.60 C181.73,289.32 181.97,288.42 182.20,287.70 C182.43,286.98 182.65,286.13 182.90,286.30 C183.15,286.47 183.45,288.63 183.70,288.70 C183.95,288.77 184.17,286.87 184.40,286.70 C184.63,286.53 184.87,286.90 185.10,287.70 C185.33,288.50 185.57,290.22 185.80,291.50 C186.03,292.78 186.30,293.78 186.50,295.40 C186.70,297.02 186.83,299.28 187.00,301.20 C187.17,303.12 187.33,304.98 187.50,306.90 C187.67,308.82 187.77,311.25 188.00,312.70 C188.23,314.15 188.58,314.80 188.90,315.60 C189.22,316.40 189.57,316.70 189.90,317.50 C190.23,318.30 190.67,318.82 190.90,320.40 C191.13,321.98 191.07,324.30 191.30,327.00 C191.53,329.70 191.88,333.40 192.30,336.60 C192.72,339.80 193.38,343.00 193.80,346.20 C194.22,349.40 194.47,353.07 194.80,355.80 C195.13,358.53 195.32,360.67 195.80,362.60 C196.28,364.53 196.90,365.97 197.70,367.40 C198.50,368.83 199.48,370.17 200.60,371.20 C201.72,372.23 202.97,372.95 204.40,373.60 C205.83,374.25 208.40,374.85 209.20,375.10" fill="none" stroke="#a8424a" stroke-width="1.05" stroke-linejoin="round"/>
<line x1="175.7" y1="311.9" x2="241" y2="311.9" stroke="#222" stroke-width="1"/>
<line x1="175.7" y1="310.4" x2="175.7" y2="313.4" stroke="#222" stroke-width="0.8"/>
<line x1="241" y1="310.4" x2="241" y2="313.4" stroke="#222" stroke-width="0.8"/>
<text x="208.35" y="309.5" font-size="4.4" font-weight="bold" class="b" text-anchor="middle" fill="#000" style="stroke-width:0.15px">89.4</text>
<text x="203.1" y="294.0" font-size="10.5" font-weight="bold" class="b" text-anchor="start" fill="#000" word-spacing="0.4">89.4 %</text>
<rect x="279.2" y="279.6" width="96.30000000000001" height="95.89999999999998" fill="#fff" stroke="#7a7a7a" stroke-width="1"/>
<line x1="277.4" y1="375.50" x2="279.2" y2="375.50" stroke="#666" stroke-width="0.8"/>
<line x1="277.4" y1="357.26" x2="279.2" y2="357.26" stroke="#666" stroke-width="0.8"/>
<line x1="277.4" y1="339.02" x2="279.2" y2="339.02" stroke="#666" stroke-width="0.8"/>
<line x1="277.4" y1="320.78" x2="279.2" y2="320.78" stroke="#666" stroke-width="0.8"/>
<line x1="277.4" y1="302.54" x2="279.2" y2="302.54" stroke="#666" stroke-width="0.8"/>
<line x1="277.4" y1="284.30" x2="279.2" y2="284.30" stroke="#666" stroke-width="0.8"/>
<line x1="278.3" y1="375.50" x2="279.2" y2="375.50" stroke="#999" stroke-width="0.5"/>
<line x1="278.3" y1="371.85" x2="279.2" y2="371.85" stroke="#999" stroke-width="0.5"/>
<line x1="278.3" y1="368.20" x2="279.2" y2="368.20" stroke="#999" stroke-width="0.5"/>
<line x1="278.3" y1="364.56" x2="279.2" y2="364.56" stroke="#999" stroke-width="0.5"/>
<line x1="278.3" y1="360.91" x2="279.2" y2="360.91" stroke="#999" stroke-width="0.5"/>
<line x1="278.3" y1="357.26" x2="279.2" y2="357.26" stroke="#999" stroke-width="0.5"/>
<line x1="278.3" y1="353.61" x2="279.2" y2="353.61" stroke="#999" stroke-width="0.5"/>
<line x1="278.3" y1="349.96" x2="279.2" y2="349.96" stroke="#999" stroke-width="0.5"/>
<line x1="278.3" y1="346.32" x2="279.2" y2="346.32" stroke="#999" stroke-width="0.5"/>
<line x1="278.3" y1="342.67" x2="279.2" y2="342.67" stroke="#999" stroke-width="0.5"/>
<line x1="278.3" y1="339.02" x2="279.2" y2="339.02" stroke="#999" stroke-width="0.5"/>
<line x1="278.3" y1="335.37" x2="279.2" y2="335.37" stroke="#999" stroke-width="0.5"/>
<line x1="278.3" y1="331.72" x2="279.2" y2="331.72" stroke="#999" stroke-width="0.5"/>
<line x1="278.3" y1="328.08" x2="279.2" y2="328.08" stroke="#999" stroke-width="0.5"/>
<line x1="278.3" y1="324.43" x2="279.2" y2="324.43" stroke="#999" stroke-width="0.5"/>
<line x1="278.3" y1="320.78" x2="279.2" y2="320.78" stroke="#999" stroke-width="0.5"/>
<line x1="278.3" y1="317.13" x2="279.2" y2="317.13" stroke="#999" stroke-width="0.5"/>
<line x1="278.3" y1="313.48" x2="279.2" y2="313.48" stroke="#999" stroke-width="0.5"/>
<line x1="278.3" y1="309.84" x2="279.2" y2="309.84" stroke="#999" stroke-width="0.5"/>
<line x1="278.3" y1="306.19" x2="279.2" y2="306.19" stroke="#999" stroke-width="0.5"/>
<line x1="278.3" y1="302.54" x2="279.2" y2="302.54" stroke="#999" stroke-width="0.5"/>
<line x1="278.3" y1="298.89" x2="279.2" y2="298.89" stroke="#999" stroke-width="0.5"/>
<line x1="278.3" y1="295.24" x2="279.2" y2="295.24" stroke="#999" stroke-width="0.5"/>
<line x1="278.3" y1="291.60" x2="279.2" y2="291.60" stroke="#999" stroke-width="0.5"/>
<line x1="278.3" y1="287.95" x2="279.2" y2="287.95" stroke="#999" stroke-width="0.5"/>
<line x1="278.3" y1="284.30" x2="279.2" y2="284.30" stroke="#999" stroke-width="0.5"/>
<text x="276" y="290.2" font-size="10" class="r" text-anchor="end" fill="#000" >100</text>
<text x="276" y="306.2" font-size="10" class="r" text-anchor="end" fill="#000" >80</text>
<text x="276" y="327.9" font-size="10" class="r" text-anchor="end" fill="#000" >60</text>
<text x="276" y="343.59999999999997" font-size="10" class="r" text-anchor="end" fill="#000" >40</text>
<text x="276" y="360.9" font-size="10" class="r" text-anchor="end" fill="#000" >20</text>
<text x="276" y="380.7" font-size="10" class="r" text-anchor="end" fill="#000" >0</text>
<line x1="281.20" y1="375.5" x2="281.20" y2="377.1" stroke="#777" stroke-width="0.6"/>
<line x1="283.56" y1="375.5" x2="283.56" y2="377.1" stroke="#777" stroke-width="0.6"/>
<line x1="285.91" y1="375.5" x2="285.91" y2="377.1" stroke="#777" stroke-width="0.6"/>
<line x1="288.27" y1="375.5" x2="288.27" y2="377.1" stroke="#777" stroke-width="0.6"/>
<line x1="290.63" y1="375.5" x2="290.63" y2="377.1" stroke="#777" stroke-width="0.6"/>
<line x1="292.99" y1="375.5" x2="292.99" y2="377.1" stroke="#777" stroke-width="0.6"/>
<line x1="295.34" y1="375.5" x2="295.34" y2="377.1" stroke="#777" stroke-width="0.6"/>
<line x1="297.70" y1="375.5" x2="297.70" y2="377.1" stroke="#777" stroke-width="0.6"/>
<line x1="300.06" y1="375.5" x2="300.06" y2="377.1" stroke="#777" stroke-width="0.6"/>
<line x1="302.42" y1="375.5" x2="302.42" y2="377.1" stroke="#777" stroke-width="0.6"/>
<line x1="304.77" y1="375.5" x2="304.77" y2="377.1" stroke="#777" stroke-width="0.6"/>
<line x1="307.13" y1="375.5" x2="307.13" y2="377.1" stroke="#777" stroke-width="0.6"/>
<line x1="309.49" y1="375.5" x2="309.49" y2="377.1" stroke="#777" stroke-width="0.6"/>
<line x1="311.85" y1="375.5" x2="311.85" y2="377.1" stroke="#777" stroke-width="0.6"/>
<line x1="314.20" y1="375.5" x2="314.20" y2="377.1" stroke="#777" stroke-width="0.6"/>
<line x1="316.56" y1="375.5" x2="316.56" y2="377.1" stroke="#777" stroke-width="0.6"/>
<line x1="318.92" y1="375.5" x2="318.92" y2="377.1" stroke="#777" stroke-width="0.6"/>
<line x1="321.28" y1="375.5" x2="321.28" y2="377.1" stroke="#777" stroke-width="0.6"/>
<line x1="323.63" y1="375.5" x2="323.63" y2="377.1" stroke="#777" stroke-width="0.6"/>
<line x1="325.99" y1="375.5" x2="325.99" y2="377.1" stroke="#777" stroke-width="0.6"/>
<line x1="328.35" y1="375.5" x2="328.35" y2="377.1" stroke="#777" stroke-width="0.6"/>
<line x1="330.71" y1="375.5" x2="330.71" y2="377.1" stroke="#777" stroke-width="0.6"/>
<line x1="333.06" y1="375.5" x2="333.06" y2="377.1" stroke="#777" stroke-width="0.6"/>
<line x1="335.42" y1="375.5" x2="335.42" y2="377.1" stroke="#777" stroke-width="0.6"/>
<line x1="337.78" y1="375.5" x2="337.78" y2="377.1" stroke="#777" stroke-width="0.6"/>
<line x1="340.14" y1="375.5" x2="340.14" y2="377.1" stroke="#777" stroke-width="0.6"/>
<line x1="342.50" y1="375.5" x2="342.50" y2="377.1" stroke="#777" stroke-width="0.6"/>
<line x1="344.85" y1="375.5" x2="344.85" y2="377.1" stroke="#777" stroke-width="0.6"/>
<line x1="347.21" y1="375.5" x2="347.21" y2="377.1" stroke="#777" stroke-width="0.6"/>
<line x1="349.57" y1="375.5" x2="349.57" y2="377.1" stroke="#777" stroke-width="0.6"/>
<line x1="351.93" y1="375.5" x2="351.93" y2="377.1" stroke="#777" stroke-width="0.6"/>
<line x1="354.28" y1="375.5" x2="354.28" y2="377.1" stroke="#777" stroke-width="0.6"/>
<line x1="356.64" y1="375.5" x2="356.64" y2="377.1" stroke="#777" stroke-width="0.6"/>
<line x1="359.00" y1="375.5" x2="359.00" y2="377.1" stroke="#777" stroke-width="0.6"/>
<line x1="361.36" y1="375.5" x2="361.36" y2="377.1" stroke="#777" stroke-width="0.6"/>
<line x1="363.71" y1="375.5" x2="363.71" y2="377.1" stroke="#777" stroke-width="0.6"/>
<line x1="366.07" y1="375.5" x2="366.07" y2="377.1" stroke="#777" stroke-width="0.6"/>
<line x1="368.43" y1="375.5" x2="368.43" y2="377.1" stroke="#777" stroke-width="0.6"/>
<line x1="370.78" y1="375.5" x2="370.78" y2="377.1" stroke="#777" stroke-width="0.6"/>
<line x1="373.14" y1="375.5" x2="373.14" y2="377.1" stroke="#777" stroke-width="0.6"/>
<line x1="279.2" y1="375.5" x2="375.5" y2="375.5" stroke="#4a4a4a" stroke-width="1.2"/>
<text x="286.6" y="391" font-size="10" class="r">0</text>
<text x="294.7" y="391" font-size="10" class="r">10<tspan font-size="6.5" dy="-3.6">2</tspan></text>
<text x="315.8" y="391" font-size="10" class="r">10<tspan font-size="6.5" dy="-3.6">3</tspan></text>
<text x="339.5" y="391" font-size="10" class="r">10<tspan font-size="6.5" dy="-3.6">4</tspan></text>
<text x="362.8" y="391" font-size="10" class="r">10<tspan font-size="6.5" dy="-3.6">5</tspan></text>
<path d="M287.40,375.10 C287.80,374.78 289.08,374.17 289.80,373.20 C290.52,372.23 291.08,370.92 291.70,369.30 C292.32,367.68 293.02,365.75 293.50,363.50 C293.98,361.25 294.25,358.68 294.60,355.80 C294.95,352.92 295.32,349.40 295.60,346.20 C295.88,343.00 296.12,339.30 296.30,336.60 C296.48,333.90 296.50,333.02 296.70,330.00 C296.90,326.98 297.20,322.35 297.50,318.50 C297.80,314.65 298.22,310.43 298.50,306.90 C298.78,303.37 298.97,300.18 299.20,297.30 C299.43,294.42 299.73,291.52 299.90,289.60 C300.07,287.68 299.83,286.43 300.20,285.80 C300.57,285.17 301.78,284.85 302.10,285.80 C302.42,286.75 301.98,289.27 302.10,291.50 C302.22,293.73 302.57,296.32 302.80,299.20 C303.03,302.08 303.27,305.58 303.50,308.80 C303.73,312.02 304.05,315.47 304.20,318.50 C304.35,321.53 304.32,323.98 304.40,327.00 C304.48,330.02 304.53,333.40 304.70,336.60 C304.87,339.80 305.13,343.00 305.40,346.20 C305.67,349.40 305.93,352.92 306.30,355.80 C306.67,358.68 307.15,361.25 307.60,363.50 C308.05,365.75 308.43,367.77 309.00,369.30 C309.57,370.83 310.20,371.90 311.00,372.70 C311.80,373.50 312.52,373.75 313.80,374.10 C315.08,374.45 317.42,374.63 318.70,374.80 C319.98,374.97 321.03,375.05 321.50,375.10" fill="none" stroke="#4a1515" stroke-width="1.05" stroke-linejoin="round"/>
<path d="M287.40,375.10 C287.80,374.78 289.08,374.17 289.80,373.20 C290.52,372.23 291.08,370.92 291.70,369.30 C292.32,367.68 293.02,365.75 293.50,363.50 C293.98,361.25 294.25,358.68 294.60,355.80 C294.95,352.92 295.32,349.40 295.60,346.20 C295.88,343.00 296.12,339.30 296.30,336.60 C296.48,333.90 296.50,333.02 296.70,330.00 C296.90,326.98 297.20,322.35 297.50,318.50 C297.80,314.65 298.22,310.43 298.50,306.90 C298.78,303.37 298.97,300.18 299.20,297.30 C299.43,294.42 299.73,291.52 299.90,289.60 C300.07,287.68 299.83,286.43 300.20,285.80 C300.57,285.17 301.78,284.85 302.10,285.80 C302.42,286.75 301.98,289.27 302.10,291.50 C302.22,293.73 302.57,296.32 302.80,299.20 C303.03,302.08 303.27,305.58 303.50,308.80 C303.73,312.02 304.05,315.47 304.20,318.50 C304.35,321.53 304.32,323.98 304.40,327.00 C304.48,330.02 304.53,333.40 304.70,336.60 C304.87,339.80 305.13,343.00 305.40,346.20 C305.67,349.40 305.93,352.92 306.30,355.80 C306.67,358.68 307.15,361.25 307.60,363.50 C308.05,365.75 308.43,367.77 309.00,369.30 C309.57,370.83 310.20,371.90 311.00,372.70 C311.80,373.50 312.52,373.75 313.80,374.10 C315.08,374.45 317.42,374.63 318.70,374.80 C319.98,374.97 321.03,375.05 321.50,375.10" fill="none" stroke="#6a1a1a" stroke-width="1.05" stroke-linejoin="round"/>
<line x1="308.3" y1="310.9" x2="375.5" y2="310.9" stroke="#222" stroke-width="1"/>
<line x1="308.3" y1="309.4" x2="308.3" y2="312.4" stroke="#222" stroke-width="0.8"/>
<line x1="375.5" y1="309.4" x2="375.5" y2="312.4" stroke="#222" stroke-width="0.8"/>
<text x="341.9" y="308.5" font-size="4.4" font-weight="bold" class="b" text-anchor="middle" fill="#000" style="stroke-width:0.15px">3.38</text>
<text x="336.2" y="294.0" font-size="10.5" font-weight="bold" class="b" text-anchor="start" fill="#000" word-spacing="0.4">3.38 %</text>
<rect x="396.2" y="279.6" width="96.80000000000001" height="95.89999999999998" fill="#fff" stroke="#7a7a7a" stroke-width="1"/>
<line x1="394.4" y1="375.50" x2="396.2" y2="375.50" stroke="#666" stroke-width="0.8"/>
<line x1="394.4" y1="357.26" x2="396.2" y2="357.26" stroke="#666" stroke-width="0.8"/>
<line x1="394.4" y1="339.02" x2="396.2" y2="339.02" stroke="#666" stroke-width="0.8"/>
<line x1="394.4" y1="320.78" x2="396.2" y2="320.78" stroke="#666" stroke-width="0.8"/>
<line x1="394.4" y1="302.54" x2="396.2" y2="302.54" stroke="#666" stroke-width="0.8"/>
<line x1="394.4" y1="284.30" x2="396.2" y2="284.30" stroke="#666" stroke-width="0.8"/>
<line x1="395.3" y1="375.50" x2="396.2" y2="375.50" stroke="#999" stroke-width="0.5"/>
<line x1="395.3" y1="371.85" x2="396.2" y2="371.85" stroke="#999" stroke-width="0.5"/>
<line x1="395.3" y1="368.20" x2="396.2" y2="368.20" stroke="#999" stroke-width="0.5"/>
<line x1="395.3" y1="364.56" x2="396.2" y2="364.56" stroke="#999" stroke-width="0.5"/>
<line x1="395.3" y1="360.91" x2="396.2" y2="360.91" stroke="#999" stroke-width="0.5"/>
<line x1="395.3" y1="357.26" x2="396.2" y2="357.26" stroke="#999" stroke-width="0.5"/>
<line x1="395.3" y1="353.61" x2="396.2" y2="353.61" stroke="#999" stroke-width="0.5"/>
<line x1="395.3" y1="349.96" x2="396.2" y2="349.96" stroke="#999" stroke-width="0.5"/>
<line x1="395.3" y1="346.32" x2="396.2" y2="346.32" stroke="#999" stroke-width="0.5"/>
<line x1="395.3" y1="342.67" x2="396.2" y2="342.67" stroke="#999" stroke-width="0.5"/>
<line x1="395.3" y1="339.02" x2="396.2" y2="339.02" stroke="#999" stroke-width="0.5"/>
<line x1="395.3" y1="335.37" x2="396.2" y2="335.37" stroke="#999" stroke-width="0.5"/>
<line x1="395.3" y1="331.72" x2="396.2" y2="331.72" stroke="#999" stroke-width="0.5"/>
<line x1="395.3" y1="328.08" x2="396.2" y2="328.08" stroke="#999" stroke-width="0.5"/>
<line x1="395.3" y1="324.43" x2="396.2" y2="324.43" stroke="#999" stroke-width="0.5"/>
<line x1="395.3" y1="320.78" x2="396.2" y2="320.78" stroke="#999" stroke-width="0.5"/>
<line x1="395.3" y1="317.13" x2="396.2" y2="317.13" stroke="#999" stroke-width="0.5"/>
<line x1="395.3" y1="313.48" x2="396.2" y2="313.48" stroke="#999" stroke-width="0.5"/>
<line x1="395.3" y1="309.84" x2="396.2" y2="309.84" stroke="#999" stroke-width="0.5"/>
<line x1="395.3" y1="306.19" x2="396.2" y2="306.19" stroke="#999" stroke-width="0.5"/>
<line x1="395.3" y1="302.54" x2="396.2" y2="302.54" stroke="#999" stroke-width="0.5"/>
<line x1="395.3" y1="298.89" x2="396.2" y2="298.89" stroke="#999" stroke-width="0.5"/>
<line x1="395.3" y1="295.24" x2="396.2" y2="295.24" stroke="#999" stroke-width="0.5"/>
<line x1="395.3" y1="291.60" x2="396.2" y2="291.60" stroke="#999" stroke-width="0.5"/>
<line x1="395.3" y1="287.95" x2="396.2" y2="287.95" stroke="#999" stroke-width="0.5"/>
<line x1="395.3" y1="284.30" x2="396.2" y2="284.30" stroke="#999" stroke-width="0.5"/>
<text x="393.4" y="289.0" font-size="10" class="r" text-anchor="end" fill="#000" >100</text>
<text x="393.4" y="305.9" font-size="10" class="r" text-anchor="end" fill="#000" >80</text>
<text x="393.4" y="327.59999999999997" font-size="10" class="r" text-anchor="end" fill="#000" >60</text>
<text x="393.4" y="343.59999999999997" font-size="10" class="r" text-anchor="end" fill="#000" >40</text>
<text x="393.4" y="360.9" font-size="10" class="r" text-anchor="end" fill="#000" >20</text>
<text x="393.4" y="380.7" font-size="10" class="r" text-anchor="end" fill="#000" >0</text>
<line x1="398.20" y1="375.5" x2="398.20" y2="377.1" stroke="#777" stroke-width="0.6"/>
<line x1="400.57" y1="375.5" x2="400.57" y2="377.1" stroke="#777" stroke-width="0.6"/>
<line x1="402.94" y1="375.5" x2="402.94" y2="377.1" stroke="#777" stroke-width="0.6"/>
<line x1="405.31" y1="375.5" x2="405.31" y2="377.1" stroke="#777" stroke-width="0.6"/>
<line x1="407.68" y1="375.5" x2="407.68" y2="377.1" stroke="#777" stroke-width="0.6"/>
<line x1="410.05" y1="375.5" x2="410.05" y2="377.1" stroke="#777" stroke-width="0.6"/>
<line x1="412.42" y1="375.5" x2="412.42" y2="377.1" stroke="#777" stroke-width="0.6"/>
<line x1="414.79" y1="375.5" x2="414.79" y2="377.1" stroke="#777" stroke-width="0.6"/>
<line x1="417.16" y1="375.5" x2="417.16" y2="377.1" stroke="#777" stroke-width="0.6"/>
<line x1="419.53" y1="375.5" x2="419.53" y2="377.1" stroke="#777" stroke-width="0.6"/>
<line x1="421.90" y1="375.5" x2="421.90" y2="377.1" stroke="#777" stroke-width="0.6"/>
<line x1="424.27" y1="375.5" x2="424.27" y2="377.1" stroke="#777" stroke-width="0.6"/>
<line x1="426.64" y1="375.5" x2="426.64" y2="377.1" stroke="#777" stroke-width="0.6"/>
<line x1="429.01" y1="375.5" x2="429.01" y2="377.1" stroke="#777" stroke-width="0.6"/>
<line x1="431.38" y1="375.5" x2="431.38" y2="377.1" stroke="#777" stroke-width="0.6"/>
<line x1="433.75" y1="375.5" x2="433.75" y2="377.1" stroke="#777" stroke-width="0.6"/>
<line x1="436.12" y1="375.5" x2="436.12" y2="377.1" stroke="#777" stroke-width="0.6"/>
<line x1="438.49" y1="375.5" x2="438.49" y2="377.1" stroke="#777" stroke-width="0.6"/>
<line x1="440.86" y1="375.5" x2="440.86" y2="377.1" stroke="#777" stroke-width="0.6"/>
<line x1="443.23" y1="375.5" x2="443.23" y2="377.1" stroke="#777" stroke-width="0.6"/>
<line x1="445.60" y1="375.5" x2="445.60" y2="377.1" stroke="#777" stroke-width="0.6"/>
<line x1="447.97" y1="375.5" x2="447.97" y2="377.1" stroke="#777" stroke-width="0.6"/>
<line x1="450.34" y1="375.5" x2="450.34" y2="377.1" stroke="#777" stroke-width="0.6"/>
<line x1="452.71" y1="375.5" x2="452.71" y2="377.1" stroke="#777" stroke-width="0.6"/>
<line x1="455.08" y1="375.5" x2="455.08" y2="377.1" stroke="#777" stroke-width="0.6"/>
<line x1="457.45" y1="375.5" x2="457.45" y2="377.1" stroke="#777" stroke-width="0.6"/>
<line x1="459.82" y1="375.5" x2="459.82" y2="377.1" stroke="#777" stroke-width="0.6"/>
<line x1="462.19" y1="375.5" x2="462.19" y2="377.1" stroke="#777" stroke-width="0.6"/>
<line x1="464.56" y1="375.5" x2="464.56" y2="377.1" stroke="#777" stroke-width="0.6"/>
<line x1="466.93" y1="375.5" x2="466.93" y2="377.1" stroke="#777" stroke-width="0.6"/>
<line x1="469.30" y1="375.5" x2="469.30" y2="377.1" stroke="#777" stroke-width="0.6"/>
<line x1="471.67" y1="375.5" x2="471.67" y2="377.1" stroke="#777" stroke-width="0.6"/>
<line x1="474.04" y1="375.5" x2="474.04" y2="377.1" stroke="#777" stroke-width="0.6"/>
<line x1="476.41" y1="375.5" x2="476.41" y2="377.1" stroke="#777" stroke-width="0.6"/>
<line x1="478.78" y1="375.5" x2="478.78" y2="377.1" stroke="#777" stroke-width="0.6"/>
<line x1="481.15" y1="375.5" x2="481.15" y2="377.1" stroke="#777" stroke-width="0.6"/>
<line x1="483.52" y1="375.5" x2="483.52" y2="377.1" stroke="#777" stroke-width="0.6"/>
<line x1="485.89" y1="375.5" x2="485.89" y2="377.1" stroke="#777" stroke-width="0.6"/>
<line x1="488.26" y1="375.5" x2="488.26" y2="377.1" stroke="#777" stroke-width="0.6"/>
<line x1="490.63" y1="375.5" x2="490.63" y2="377.1" stroke="#777" stroke-width="0.6"/>
<line x1="396.2" y1="375.5" x2="493" y2="375.5" stroke="#4a4a4a" stroke-width="1.2"/>
<text x="404.5" y="391" font-size="10" class="r">0</text>
<text x="411.9" y="391" font-size="10" class="r">10<tspan font-size="6.5" dy="-3.6">2</tspan></text>
<text x="433.1" y="391" font-size="10" class="r">10<tspan font-size="6.5" dy="-3.6">3</tspan></text>
<text x="457" y="391" font-size="10" class="r">10<tspan font-size="6.5" dy="-3.6">4</tspan></text>
<text x="480.7" y="391" font-size="10" class="r">10<tspan font-size="6.5" dy="-3.6">5</tspan></text>
<path d="M401.90,375.10 C402.30,374.93 403.57,374.90 404.30,374.10 C405.03,373.30 405.65,372.07 406.30,370.30 C406.95,368.53 407.65,365.92 408.20,363.50 C408.75,361.08 409.20,358.68 409.60,355.80 C410.00,352.92 410.28,349.40 410.60,346.20 C410.92,343.00 411.30,339.30 411.50,336.60 C411.70,333.90 411.63,333.02 411.80,330.00 C411.97,326.98 412.25,322.03 412.50,318.50 C412.75,314.97 413.07,310.88 413.30,308.80 C413.53,306.72 413.72,307.27 413.90,306.00 C414.08,304.73 414.23,302.65 414.40,301.20 C414.57,299.75 414.73,298.75 414.90,297.30 C415.07,295.85 415.23,294.10 415.40,292.50 C415.57,290.90 415.72,288.82 415.90,287.70 C416.08,286.58 416.30,285.48 416.50,285.80 C416.70,286.12 416.92,288.65 417.10,289.60 C417.28,290.55 417.43,290.22 417.60,291.50 C417.77,292.78 417.95,295.37 418.10,297.30 C418.25,299.23 418.32,301.18 418.50,303.10 C418.68,305.02 418.92,306.23 419.20,308.80 C419.48,311.37 419.93,315.47 420.20,318.50 C420.47,321.53 420.62,323.98 420.80,327.00 C420.98,330.02 421.08,333.40 421.30,336.60 C421.52,339.80 421.83,343.00 422.10,346.20 C422.37,349.40 422.62,352.92 422.90,355.80 C423.18,358.68 423.42,361.25 423.80,363.50 C424.18,365.75 424.68,367.68 425.20,369.30 C425.72,370.92 426.13,372.23 426.90,373.20 C427.67,374.17 429.32,374.78 429.80,375.10" fill="none" stroke="#262626" stroke-width="1.05" stroke-linejoin="round"/>
<path d="M408.70,375.10 C409.33,375.02 411.30,375.00 412.50,374.60 C413.70,374.20 414.85,373.58 415.90,372.70 C416.95,371.82 418.00,370.67 418.80,369.30 C419.60,367.93 420.15,366.10 420.70,364.50 C421.25,362.90 421.70,361.30 422.10,359.70 C422.50,358.10 422.78,357.15 423.10,354.90 C423.42,352.65 423.65,349.25 424.00,346.20 C424.35,343.15 424.93,339.30 425.20,336.60 C425.47,333.90 425.40,333.02 425.60,330.00 C425.80,326.98 426.13,321.70 426.40,318.50 C426.67,315.30 426.95,312.42 427.20,310.80 C427.45,309.18 427.65,309.93 427.90,308.80 C428.15,307.67 428.47,305.92 428.70,304.00 C428.93,302.08 429.08,299.38 429.30,297.30 C429.52,295.22 429.75,293.02 430.00,291.50 C430.25,289.98 430.52,289.07 430.80,288.20 C431.08,287.33 431.30,286.67 431.70,286.30 C432.10,285.93 432.80,285.93 433.20,286.00 C433.60,286.07 433.83,286.25 434.10,286.70 C434.37,287.15 434.55,287.73 434.80,288.70 C435.05,289.67 435.38,291.38 435.60,292.50 C435.82,293.62 435.87,294.60 436.10,295.40 C436.33,296.20 436.68,296.33 437.00,297.30 C437.32,298.27 437.75,299.75 438.00,301.20 C438.25,302.65 438.30,304.88 438.50,306.00 C438.70,307.12 438.97,307.90 439.20,307.90 C439.43,307.90 439.70,306.00 439.90,306.00 C440.10,306.00 440.23,306.78 440.40,307.90 C440.57,309.02 440.72,310.62 440.90,312.70 C441.08,314.78 441.33,318.02 441.50,320.40 C441.67,322.78 441.67,324.30 441.90,327.00 C442.13,329.70 442.50,333.72 442.90,336.60 C443.30,339.48 443.82,342.05 444.30,344.30 C444.78,346.55 445.32,347.53 445.80,350.10 C446.28,352.67 446.72,358.18 447.20,359.70 C447.68,361.22 448.30,358.88 448.70,359.20 C449.10,359.52 449.13,360.40 449.60,361.60 C450.07,362.80 450.78,364.95 451.50,366.40 C452.22,367.85 453.02,369.33 453.90,370.30 C454.78,371.27 455.75,371.48 456.80,372.20 C457.85,372.92 459.15,374.12 460.20,374.60 C461.25,375.08 462.62,375.02 463.10,375.10" fill="none" stroke="#a8424a" stroke-width="1.05" stroke-linejoin="round"/>
<line x1="423.7" y1="311.7" x2="493" y2="311.7" stroke="#222" stroke-width="1"/>
<line x1="423.7" y1="310.2" x2="423.7" y2="313.2" stroke="#222" stroke-width="0.8"/>
<line x1="493" y1="310.2" x2="493" y2="313.2" stroke="#222" stroke-width="0.8"/>
<text x="458.35" y="309.3" font-size="4.4" font-weight="bold" class="b" text-anchor="middle" fill="#000" style="stroke-width:0.15px">95.1</text>
<text x="453.4" y="294.0" font-size="10.5" font-weight="bold" class="b" text-anchor="start" fill="#000" word-spacing="0.4">95.1 %</text>
<line x1="4.8" y1="406" x2="498" y2="406" stroke="#000" stroke-width="2.3"/>
<polyline points="489.4,401 498.4,406 489.4,410.9" fill="none" stroke="#000" stroke-width="2.3" stroke-linejoin="miter"/>
<text x="252.2" y="424.6" font-size="12.7" font-weight="bold" class="b" text-anchor="middle" fill="#000" >LEF-1</text>
<text x="189.4" y="456.4" font-size="18" font-weight="bold" class="b" text-anchor="start" fill="#000" style="stroke-width:0.6px">C</text>
<rect x="238.95" y="444.25" width="7.400000000000006" height="7.399999999999977" fill="#fff" stroke="#1a3060" stroke-width="1.5"/>
<rect x="253.05" y="444.75" width="7.199999999999989" height="7.199999999999989" fill="#fff" stroke="#7a1222" stroke-width="1.5"/>
<rect x="238.5" y="458.5" width="8.900000000000006" height="8.899999999999977" fill="#0d3977"/>
<rect x="252.3" y="458.2" width="9.199999999999989" height="8.600000000000023" fill="#b3001a"/>
<text x="267.3" y="452.4" font-size="10.5" font-weight="bold" class="b" text-anchor="start" fill="#000" >- Bortezomib</text>
<text x="267.3" y="465.5" font-size="10.5" font-weight="bold" class="b" text-anchor="start" fill="#000" >+ Bortezomib</text>
<line x1="244.5" y1="480.5" x2="248" y2="480.5" stroke="#000" stroke-width="1.3"/>
<text x="242.60000000000002" y="485.38" font-size="10" font-weight="bold" class="b" text-anchor="end" fill="#000" >15</text>
<line x1="244.5" y1="501.4" x2="248" y2="501.4" stroke="#000" stroke-width="1.3"/>
<text x="243.0" y="506.08" font-size="10" font-weight="bold" class="b" text-anchor="end" fill="#000" >12</text>
<line x1="244.5" y1="522.3" x2="248" y2="522.3" stroke="#000" stroke-width="1.3"/>
<text x="241.4" y="526.98" font-size="10" font-weight="bold" class="b" text-anchor="end" fill="#000" >9</text>
<line x1="244.5" y1="543.3" x2="248" y2="543.3" stroke="#000" stroke-width="1.3"/>
<text x="241.4" y="549.58" font-size="10" font-weight="bold" class="b" text-anchor="end" fill="#000" >6</text>
<line x1="244.5" y1="564.2" x2="248" y2="564.2" stroke="#000" stroke-width="1.3"/>
<text x="241.4" y="571.2800000000001" font-size="10" font-weight="bold" class="b" text-anchor="end" fill="#000" >3</text>
<line x1="244.5" y1="585.1" x2="248" y2="585.1" stroke="#000" stroke-width="1.3"/>
<text x="243.0" y="588.58" font-size="10" font-weight="bold" class="b" text-anchor="end" fill="#000" >0</text>
<line x1="259.4" y1="539.8" x2="259.4" y2="537.1" stroke="#16325e" stroke-width="1.6"/>
<line x1="256.4" y1="537.1" x2="262.4" y2="537.1" stroke="#16325e" stroke-width="1.7"/>
<rect x="252.5" y="540.5999999999999" width="14.100000000000033" height="44.50000000000007" fill="#fff" stroke="#16325e" stroke-width="1.6"/>
<line x1="275.5" y1="531.3" x2="275.5" y2="520.6" stroke="#16325e" stroke-width="1.6"/>
<line x1="272.5" y1="520.6" x2="278.5" y2="520.6" stroke="#16325e" stroke-width="1.7"/>
<rect x="267.1" y="531.3" width="16.799999999999955" height="53.80000000000007" fill="#0b3a78"/>
<line x1="296.65" y1="577" x2="296.65" y2="568.3" stroke="#8a0c18" stroke-width="1.6"/>
<line x1="293.65" y1="568.3" x2="299.65" y2="568.3" stroke="#8a0c18" stroke-width="1.7"/>
<rect x="289.8" y="577.8" width="14.00000000000001" height="7.300000000000023" fill="#fff" stroke="#8a0c18" stroke-width="1.6"/>
<line x1="312.85" y1="547.4" x2="312.85" y2="543.8" stroke="#8a0c18" stroke-width="1.6"/>
<line x1="309.85" y1="543.8" x2="315.85" y2="543.8" stroke="#8a0c18" stroke-width="1.7"/>
<rect x="304.3" y="547.4" width="17.099999999999966" height="37.700000000000045" fill="#a30004"/>
<line x1="248" y1="480.4" x2="248" y2="585.8000000000001" stroke="#000" stroke-width="1.4"/>
<line x1="247.3" y1="585.1" x2="322" y2="585.1" stroke="#000" stroke-width="1.7"/>
<text x="0" y="37.6" font-size="10" font-weight="bold" class="b" text-anchor="middle" fill="#000" ></text>
<text x="312.9" y="544.03" font-size="15" font-weight="bold" class="b" text-anchor="middle" fill="#000" >*</text>
<text transform="translate(211,533.8) rotate(-90)" font-size="10.7" font-weight="bold" class="b" text-anchor="middle">LEF1 / &#223;-actin</text>
<text transform="translate(221,534.3) rotate(-90)" font-size="10.4" font-weight="bold" class="b" text-anchor="middle">mRNA ratio (AU)</text>
<text transform="translate(268.5,599.5) rotate(-31)" font-size="10.5" font-weight="bold" class="b" text-anchor="end">ctrl</text>
<text transform="translate(311.5,599.5) rotate(-31)" font-size="10.8" font-weight="bold" class="b" text-anchor="end">caSTAT5</text>
</svg>
</body></html>
